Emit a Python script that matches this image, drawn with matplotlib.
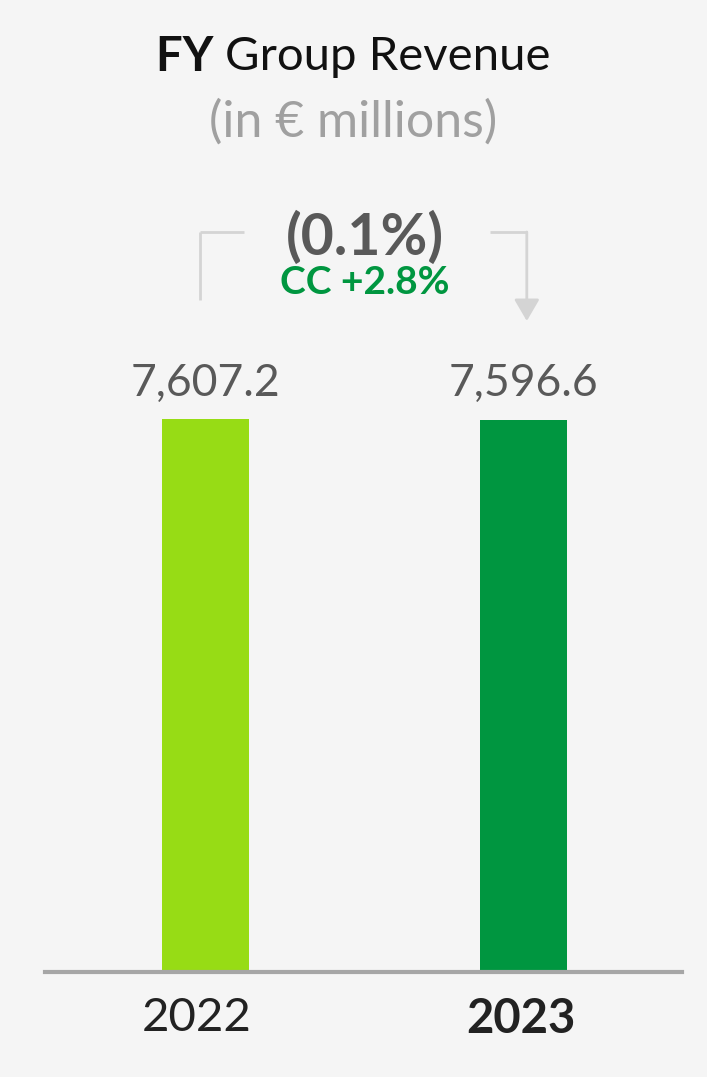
import matplotlib.pyplot as plt
from matplotlib.patches import FancyArrowPatch
from matplotlib.transforms import ScaledTranslation

years = ["2022", "2023"]
revenue = [7607.2, 7596.6]
value_labels = ["7,607.2", "7,596.6"]
change_label = "(0.1%)"
cc_label = "CC +2.8%"
bar_colors = ["#97dc15", "#009640"]

BG = "#f5f5f5"
plt.rcParams["font.family"] = ["Lato", "DejaVu Sans"]

fig = plt.figure(figsize=(7.07, 10.77), dpi=100, facecolor=BG)
ax = fig.add_axes([45 / 707, 105 / 1077, 637 / 707, 972 / 1077])
ax.set_facecolor(BG)

x = [0, 1]
ax.bar(x, revenue, width=0.274, color=bar_colors, zorder=2)
ax.set_xlim(-0.505, 1.498)
ax.set_ylim(0, 7607.2 * 972 / 553)

for s in ["top", "left", "right"]:
    ax.spines[s].set_visible(False)
ax.spines["bottom"].set_color("#a6a6a6")
ax.spines["bottom"].set_linewidth(3)
ax.set_yticks([])
ax.set_xticks(x)
ax.set_xticklabels(years, fontsize=34, color="#222222")
ax.tick_params(axis="x", length=0, pad=18)
labels = ax.get_xticklabels()
labels[1].set_fontweight("bold")
# year labels sit slightly left of the bar centres in the original
labels[0].set_transform(labels[0].get_transform()
                        + ScaledTranslation(-0.09, 0, fig.dpi_scale_trans))
labels[1].set_transform(labels[1].get_transform()
                        + ScaledTranslation(-0.03, 0, fig.dpi_scale_trans))

px = 7607.2 / 553  # data units per pixel

# value labels above bars
for xi, v, lab in zip(x, revenue, value_labels):
    ax.text(xi, v + 36 * px, lab, ha="center", va="center", fontsize=32,
            color="#595959")

# bracket with arrow
y_top = (972 - 232) * px
lc = "#d4d4d4"
ax.plot([-0.017, -0.017], [(972 - 300) * px, y_top], color=lc, lw=2, solid_capstyle="butt")
ax.plot([-0.017, 0.12], [y_top, y_top], color=lc, lw=2, solid_capstyle="butt")
ax.plot([0.895, 1.01], [y_top, y_top], color=lc, lw=2, solid_capstyle="butt")
ax.add_patch(FancyArrowPatch((1.01, y_top), (1.01, (972 - 321) * px),
                             arrowstyle="-|>,head_length=0.6,head_width=0.35",
                             mutation_scale=22, color=lc, lw=2,
                             shrinkA=0, shrinkB=0))

ax.text(0.5, (972 - 238) * px, change_label, ha="center", va="center",
        fontsize=41, fontweight="bold", color="#595959")
ax.text(0.5, (972 - 282) * px, cc_label, ha="center", va="center",
        fontsize=28, fontweight="bold", color="#009640")

# title: bold "FY" followed by regular text, centred as one line
fig.canvas.draw()
r = fig.canvas.get_renderer()
t1 = fig.text(0, 1 - 57 / 1077, "FY ", ha="left", va="center", fontsize=34,
              fontweight="bold", color="#111111")
t2 = fig.text(0, 1 - 57 / 1077, "Group Revenue", ha="left", va="center",
              fontsize=34, color="#111111")
w1 = t1.get_window_extent(r).width
w2 = t2.get_window_extent(r).width
x0 = (707 - w1 - w2) / 2
t1.set_x(x0 / 707)
t2.set_x((x0 + w1) / 707)

fig.text(0.5, 1 - 122 / 1077, "(in € millions)", ha="center", va="center",
         fontsize=36, color="#a0a0a0")

fig.savefig("out.png", dpi=100, facecolor=BG)
